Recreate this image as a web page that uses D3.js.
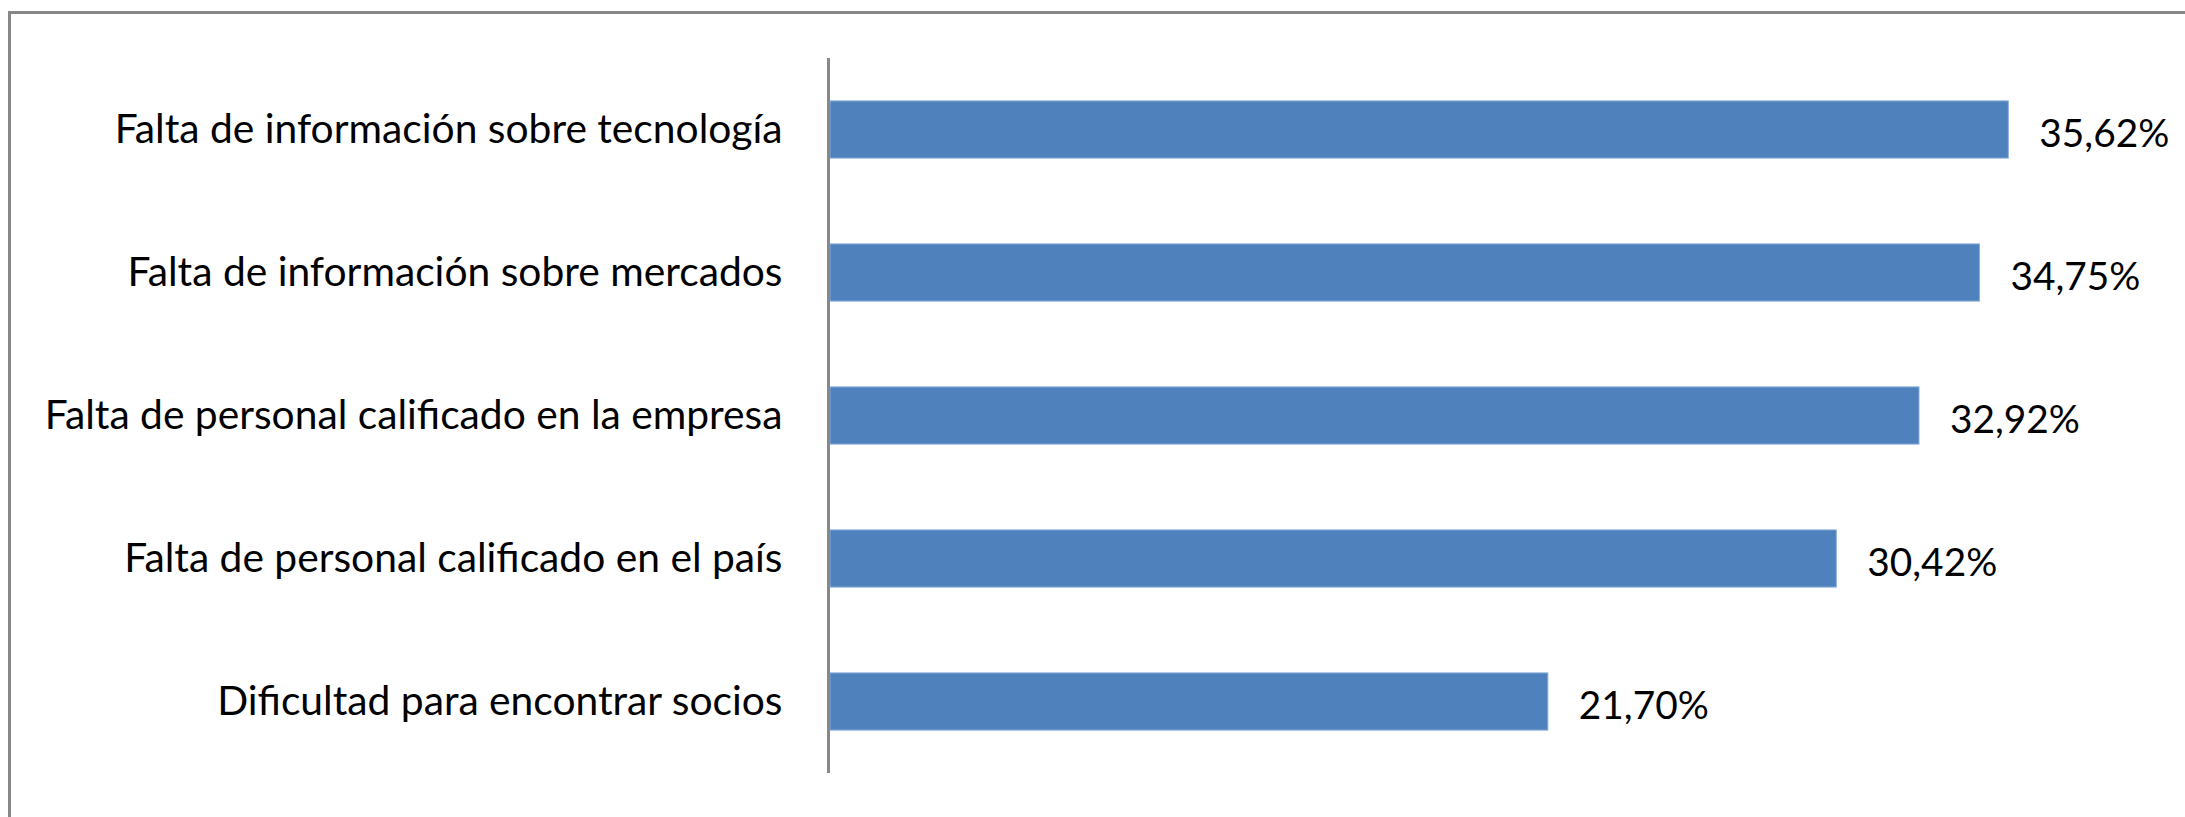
<!DOCTYPE html>
<html>
<head>
<meta charset="utf-8">
<script src="https://cdn.jsdelivr.net/npm/d3@7"></script>
<style>
  html, body { margin: 0; padding: 0; background: #ffffff; overflow: hidden; }
  svg { display: block; }
</style>
</head>
<body>
<svg id="chart" width="2185" height="817"></svg>
<script>
// ---- data ----
const categories = [
  "Falta de información sobre tecnología",
  "Falta de información sobre mercados",
  "Falta de personal calificado en la empresa",
  "Falta de personal calificado en el país",
  "Dificultad para encontrar socios"
];
const values = [35.62, 34.75, 32.92, 30.42, 21.70];
const valueLabels = ["35,62%", "34,75%", "32,92%", "30,42%", "21,70%"];

// ---- layout ----
const W = 2185, H = 817;
const svg = d3.select("#chart");
const fontFamily = "Lato, 'Open Sans', sans-serif";

// outer frame (right/bottom edges fall outside the picture)
svg.append("rect")
  .attr("x", 9.5).attr("y", 12.5)
  .attr("width", W + 20).attr("height", H + 20)
  .attr("fill", "#ffffff")
  .attr("stroke", "#888888").attr("stroke-width", 3);

const axisX = 828.5;
const x = d3.scaleLinear().domain([0, 40]).range([830, 830 + 40 * 33.08]);
const y = d3.scaleBand().domain(categories).range([58, 773]).paddingInner(0.6).paddingOuter(0.3);

// bars
svg.append("g").selectAll("rect")
  .data(values)
  .join("rect")
  .attr("x", x(0))
  .attr("y", (d, i) => y(categories[i]))
  .attr("width", d => x(d) - x(0))
  .attr("height", y.bandwidth())
  .attr("fill", "#4F81BD")
  .attr("stroke", "#8aaedb")
  .attr("stroke-width", 1);

// vertical category axis line
const yAxis = d3.axisLeft(y).tickSize(0).tickPadding(46);
const gAxis = svg.append("g")
  .attr("transform", `translate(${axisX},0)`)
  .call(yAxis);
gAxis.select(".domain").remove();
gAxis.append("line")
  .attr("x1", 0).attr("x2", 0)
  .attr("y1", 58).attr("y2", 773)
  .attr("stroke", "#888888").attr("stroke-width", 3);

const catText = gAxis.selectAll(".tick text")
  .attr("fill", "#000000")
  .attr("font-family", fontFamily)
  .attr("font-size", 36)
  .attr("dy", "0.32em");

// fit category font so the total label width matches the reference (~3285px)
let sumW = 0;
catText.each(function () { sumW += this.getComputedTextLength(); });
const catSize = 36 * 3285 / sumW;
catText.attr("font-size", catSize).attr("dy", null)
  .attr("y", 13);

// value labels
const vText = svg.append("g").selectAll("text")
  .data(values)
  .join("text")
  .attr("x", d => x(d) + 31)
  .attr("y", (d, i) => y(categories[i]) + y.bandwidth() / 2 + 17)
  .attr("font-family", fontFamily)
  .attr("font-size", 36)
  .attr("fill", "#000000")
  .text((d, i) => valueLabels[i]);

let vW = 0;
vText.each(function (d, i) { if (i === 0) vW = this.getComputedTextLength(); });
vText.attr("font-size", 36 * 130 / vW);
</script>
</body>
</html>
